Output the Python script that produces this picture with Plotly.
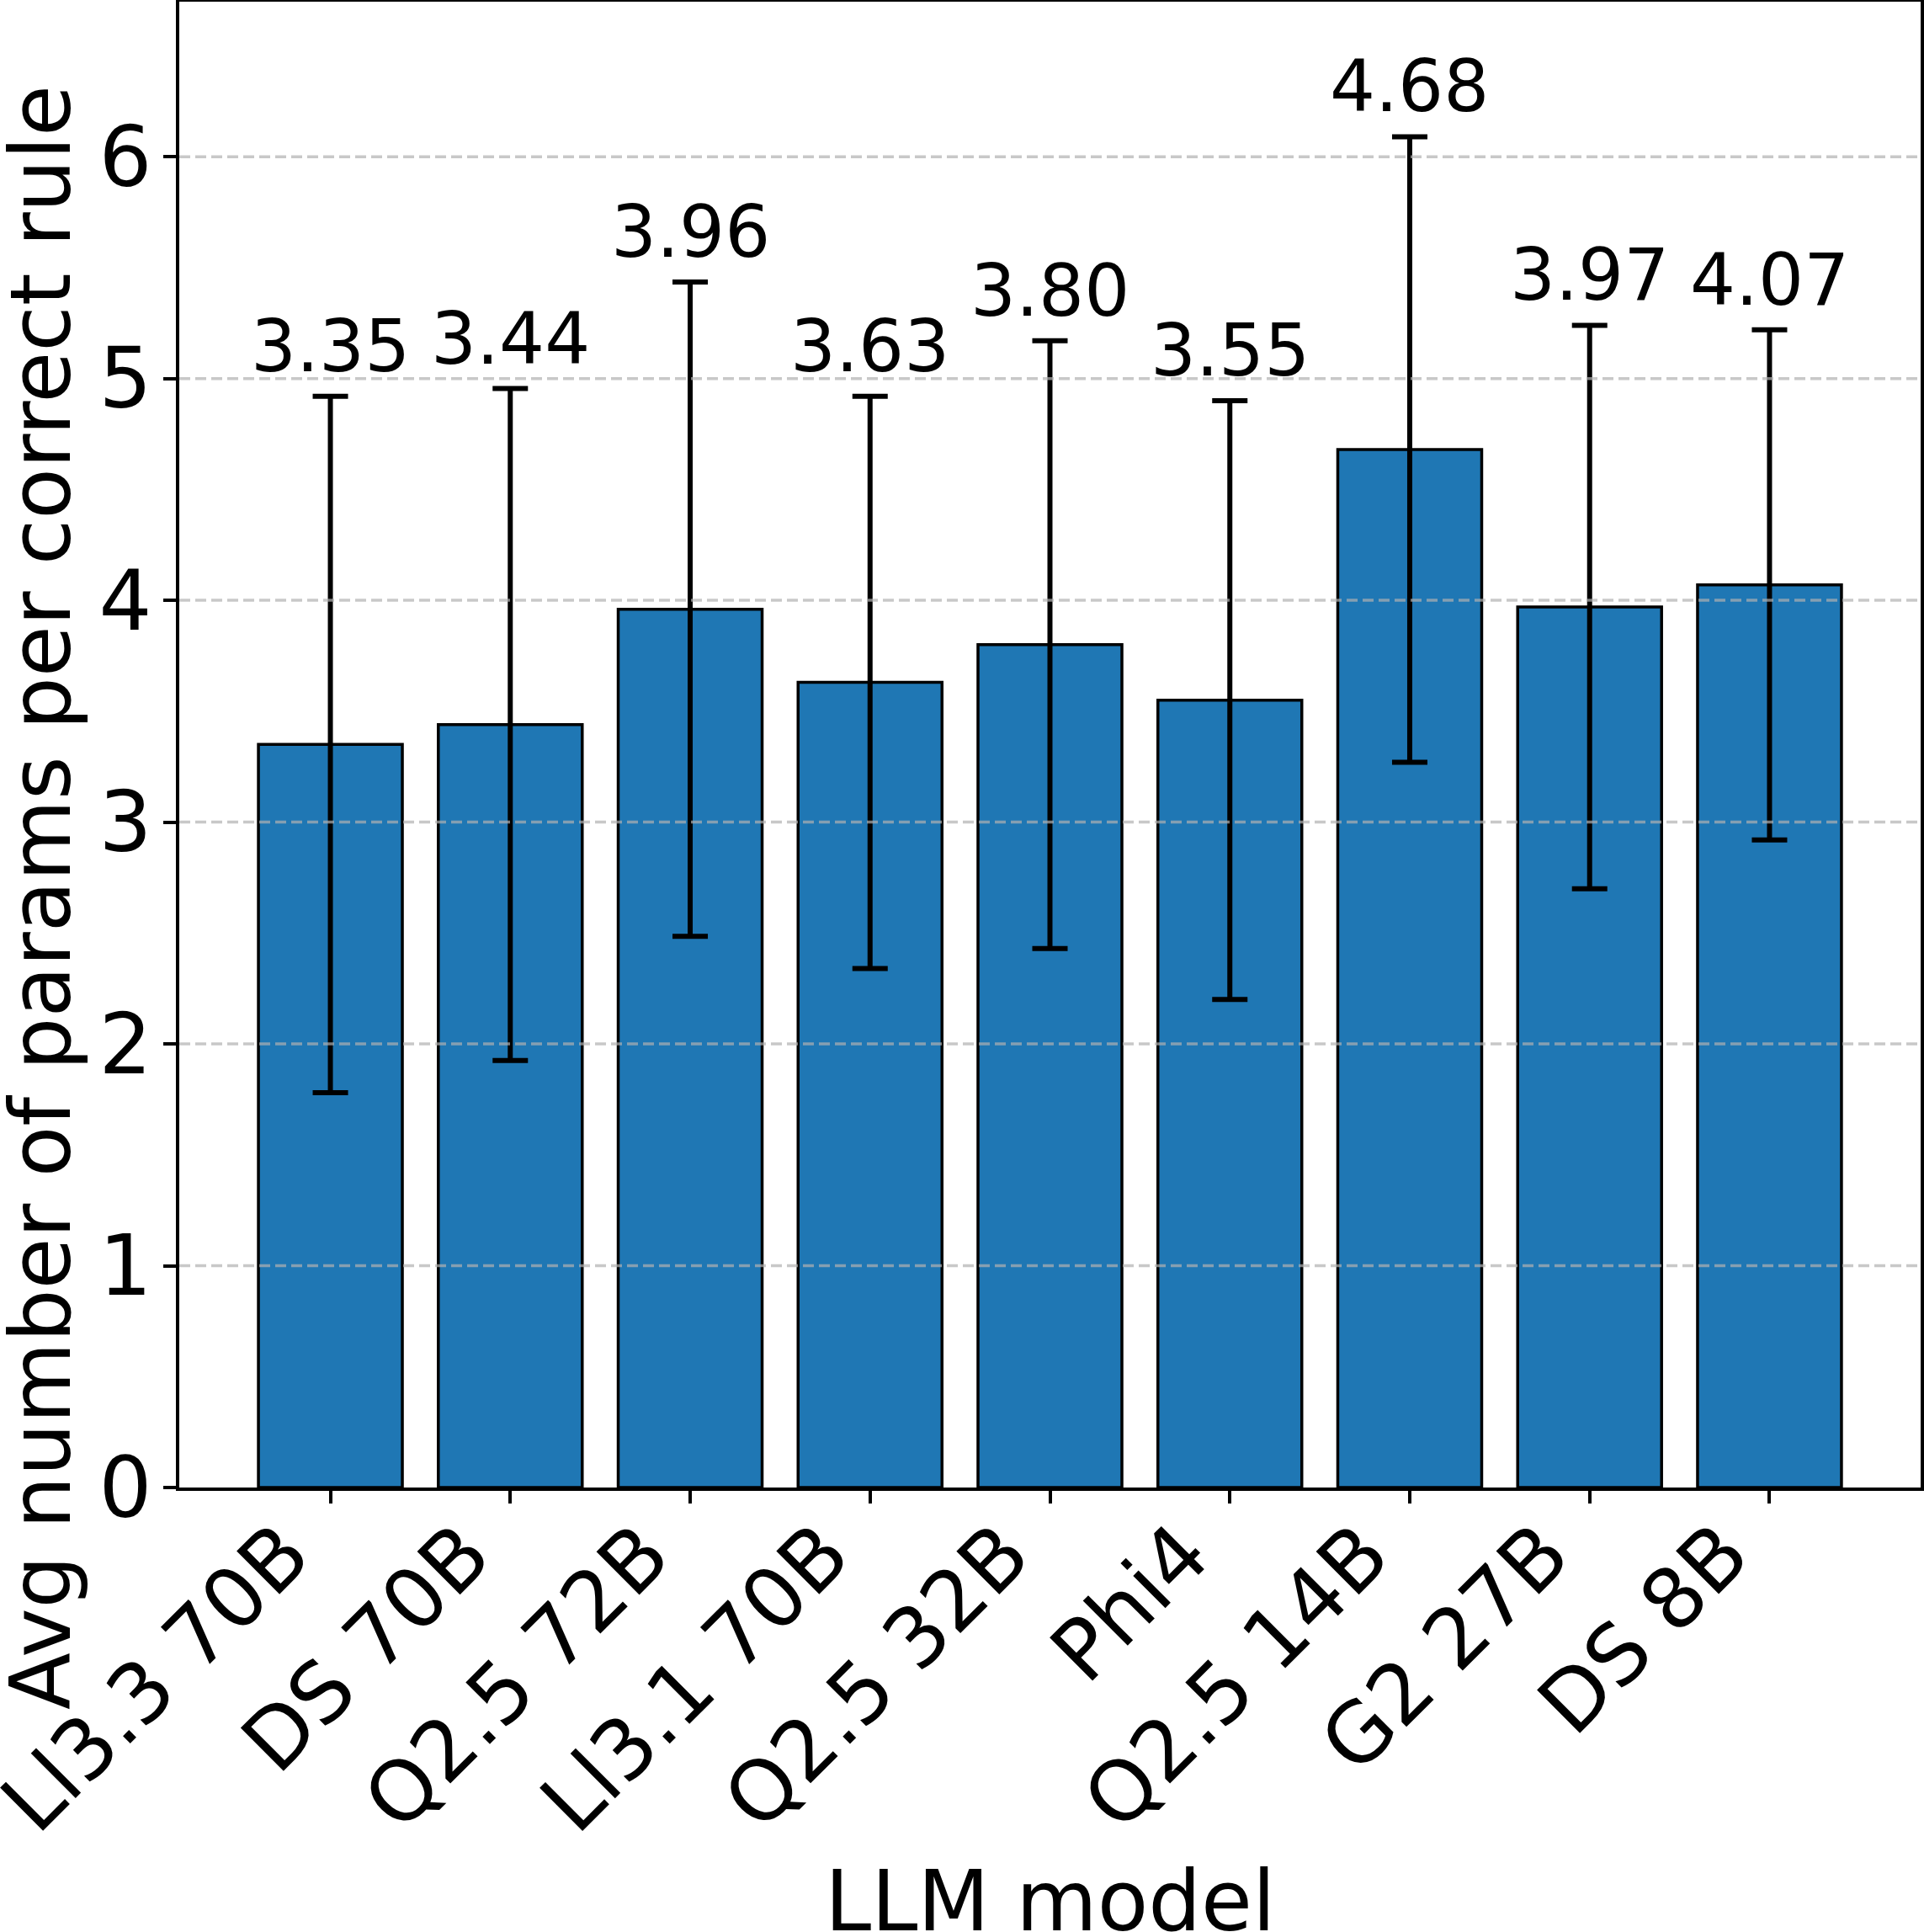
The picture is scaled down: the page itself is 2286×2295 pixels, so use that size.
import plotly.graph_objects as go

models = ["Ll3.3 70B", "DS 70B", "Q2.5 72B", "Ll3.1 70B", "Q2.5 32B",
          "Phi4", "Q2.5 14B", "G2 27B", "DS 8B"]
avg_params = [3.35, 3.44, 3.96, 3.63, 3.80, 3.55, 4.68, 3.97, 4.07]
std_params = [1.57, 1.515, 1.475, 1.29, 1.37, 1.35, 1.41, 1.27, 1.15]
y_ticks = [0, 1, 2, 3, 4, 5, 6]

FONT = "DejaVu Sans"
W, H = 2286, 2295
L, R, T, B = 213, 4, 2, 528
GRID = "rgba(176,176,176,0.7)"

fig = go.Figure()
fig.add_trace(go.Bar(
    x=models, y=avg_params, width=0.8,
    marker=dict(color="#1f77b4", line=dict(color="black", width=3.5)),
    error_y=dict(type="data", array=std_params, visible=True,
                 color="black", thickness=6, width=21),
))

y_top = max(m + s for m, s in zip(avg_params, std_params)) * 1.1

plot_h = H - T - B
plot_w = W - L - R

def py(px):
    """pixel row -> paper y"""
    return (H - B - px) / plot_h

# value labels above error bars
for m, s, name in zip(avg_params, std_params, models):
    fig.add_annotation(x=name, y=m + s, text=f"{m:.2f}", showarrow=False,
                       xanchor="center", yanchor="bottom", yshift=8,
                       font=dict(family=FONT, size=85, color="black"))

# rotated category labels (right/top aligned at each tick)
for name in models:
    fig.add_annotation(x=name, xref="x", y=py(1797), yref="paper",
                       text=name, textangle=-45, showarrow=False,
                       xanchor="right", yanchor="top", yshift=12,
                       font=dict(family=FONT, size=99, color="black"))

# grid lines drawn over the bars
for v in y_ticks[1:]:
    fig.add_shape(type="line", xref="paper", x0=0, x1=1, yref="y", y0=v, y1=v,
                  line=dict(color=GRID, width=3.5, dash="13px,6px"),
                  layer="above")

# axis titles
fig.add_annotation(xref="paper", yref="paper",
                   x=(48 - L) / plot_w, y=py(1066),
                   text="Avg number of params per correct rule", textangle=-90,
                   showarrow=False, xanchor="center", yanchor="middle",
                   font=dict(family=FONT, size=99, color="black"))
fig.add_annotation(xref="paper", yref="paper",
                   x=0.5, y=py(2258),
                   text="LLM model", showarrow=False,
                   xanchor="center", yanchor="middle",
                   font=dict(family=FONT, size=99, color="black"))

fig.update_layout(
    width=W, height=H,
    margin=dict(l=L, r=R, t=T, b=B, autoexpand=False),
    paper_bgcolor="white", plot_bgcolor="white",
    showlegend=False,
    font=dict(family=FONT, color="black"),
)
fig.update_xaxes(
    type="category", range=[-0.84, 8.84],
    showline=True, mirror=True, linecolor="black", linewidth=3.5,
    ticks="outside", ticklen=15, tickwidth=3.5, tickcolor="black",
    showticklabels=False,
    showgrid=False, zeroline=False,
)
fig.update_yaxes(
    range=[0, y_top], tickvals=y_ticks,
    showline=True, mirror=True, linecolor="black", linewidth=3.5,
    ticks="outside", ticklen=15, tickwidth=3.5, tickcolor="black",
    tickfont=dict(family=FONT, size=99, color="black"),
    ticklabelstandoff=-6,
    showgrid=False, zeroline=False,
)

fig.write_html("out.html")
